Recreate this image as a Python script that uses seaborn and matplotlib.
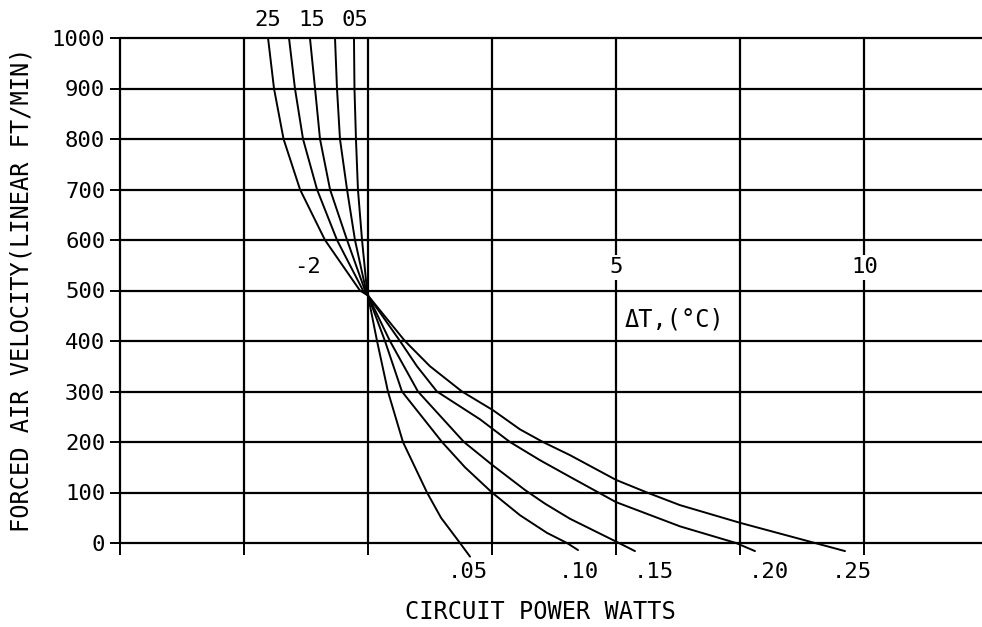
import matplotlib
matplotlib.use("Agg")
import matplotlib.pyplot as plt
import numpy as np
import pandas as pd
import seaborn as sns

# ---- data (x in grid units: vertical grid lines every 10 units) ----
curve_names = [".25", ".20", ".15", ".10", ".05"]

x_025 = [11.94, 12.42, 13.19, 14.52, 16.53, 19.35, 20.0, 22.98, 25.0, 27.58, 30.08,
         32.26, 34.11, 36.29, 40.0, 42.50, 45.16, 50.0, 56.05, 58.47]
v_025 = [1000, 900, 800, 700, 600, 500, 490, 400, 350, 300, 263,
         225, 200, 174, 125, 100, 75, 40, 0, -16]

x_020 = [13.63, 14.11, 14.76, 15.89, 17.50, 19.60, 20.0, 22.58, 23.95, 25.56, 29.03,
         31.45, 33.87, 36.29, 40.0, 45.16, 49.68, 51.21]
v_020 = [1000, 900, 800, 700, 600, 500, 490, 400, 350, 300, 245,
         200, 164, 131, 81, 33, 0, -16]

x_015 = [15.32, 15.73, 16.13, 16.94, 18.31, 19.76, 20.0, 21.77, 24.03, 27.74, 30.0,
         32.66, 34.27, 36.29, 40.24, 41.53]
v_015 = [1000, 900, 800, 700, 600, 500, 490, 400, 300, 200, 155,
         105, 78, 48, 0, -16]

x_010 = [17.34, 17.50, 17.74, 18.31, 18.95, 19.84, 20.0, 21.37, 22.74, 25.97, 27.82,
         30.0, 32.26, 34.44, 36.05, 36.94]
v_010 = [1000, 900, 800, 700, 600, 500, 490, 400, 300, 200, 150,
         100, 55, 20, 0, -14]

x_005 = [18.87, 18.91, 19.03, 19.19, 19.52, 19.92, 20.0, 20.73, 21.61, 22.82, 24.76,
         25.89, 27.42, 28.23]
v_005 = [1000, 900, 800, 700, 600, 500, 490, 400, 300, 200, 100,
         50, 0, -27]

curve_x = [x_025, x_020, x_015, x_010, x_005]
curve_v = [v_025, v_020, v_015, v_010, v_005]

x_grid = [0, 10, 20, 30, 40, 50, 60]
y_grid = [0, 100, 200, 300, 400, 500, 600, 700, 800, 900, 1000]

top_labels = ["25", "15", "05"]
top_label_x = [11.94, 15.48, 18.95]

bottom_labels = [".05", ".10", ".15", ".20", ".25"]
bottom_label_x = [28.06, 37.02, 43.06, 52.34, 59.03]

dt_labels = ["-2", "5", "10"]
dt_label_x = [15.16, 40.0, 60.1]

# ---- build long table ----
rows = []
for name, xs, vs in zip(curve_names, curve_x, curve_v):
    for i, (xx, vv) in enumerate(zip(xs, vs)):
        rows.append({"curve": name, "order": i, "x": xx, "v": vv})
df = pd.DataFrame(rows)

sns.set_theme(style="white")
plt.rcParams["font.family"] = ["DejaVu Sans Mono", "DejaVu Sans"]

fig = plt.figure(figsize=(9.82, 6.27), dpi=100)
ax = fig.add_axes([120 / 982, 84 / 627, 862 / 982, 505 / 627])
ax.set_xlim(0, 69.52)
ax.set_ylim(0, 1000)

for s in ax.spines.values():
    s.set_visible(False)

# grid
for gx in x_grid:
    ax.axvline(gx, color="black", lw=1.6, clip_on=False, zorder=1)
for gy in y_grid:
    ax.axhline(gy, color="black", lw=1.6, clip_on=False, zorder=1)

sns.lineplot(data=df, x="x", y="v", units="curve", estimator=None, sort=False,
             color="black", linewidth=1.4, ax=ax, legend=False, zorder=2)
for ln in ax.lines:
    ln.set_clip_on(False)

# ticks
ax.set_yticks(y_grid)
ax.set_yticklabels([str(v) for v in y_grid])
ax.tick_params(axis="y", left=True, direction="out", length=7.2, width=1.4,
               pad=3.5, labelsize=16, color="black", labelcolor="black")
ax.set_xticks(x_grid)
ax.set_xticklabels([])
ax.tick_params(axis="x", bottom=True, direction="out", length=8.6, width=1.4,
               color="black")

# labels
for s, xx in zip(top_labels, top_label_x):
    ax.text(xx, 1036, s, ha="center", va="center", fontsize=16, color="black", clip_on=False)
for s, xx in zip(bottom_labels, bottom_label_x):
    ax.text(xx, -57, s, ha="center", va="center", fontsize=16, color="black", clip_on=False)
for s, xx in zip(dt_labels, dt_label_x):
    ax.text(xx, 546, s, ha="center", va="center", fontsize=16, color="black", zorder=3,
            bbox=dict(facecolor="white", edgecolor="none", pad=2.0))
ax.text(40.73, 442, "ΔT,(°C)", ha="left", va="center", fontsize=17, color="black", zorder=3)

ax.set_xlabel("CIRCUIT POWER WATTS", fontsize=17, color="black")
ax.xaxis.set_label_coords(0.4872, -0.1366)
ax.xaxis.label.set_va("center")
ax.set_ylabel("FORCED AIR VELOCITY(LINEAR FT/MIN)", fontsize=17, color="black")
ax.yaxis.set_label_coords(-0.1137, 0.501)
ax.yaxis.label.set_va("center")

fig.savefig("out.png", dpi=100)
